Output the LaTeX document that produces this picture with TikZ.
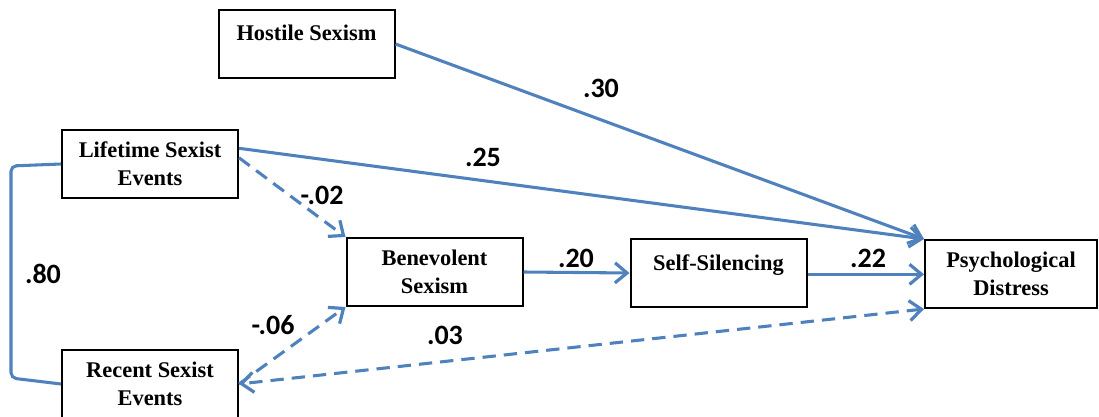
\documentclass[tikz,border=0pt]{standalone}
\usepackage{fontspec}
\setmainfont{Liberation Serif}
\newfontfamily\coeffont{Carlito}
\usetikzlibrary{arrows.meta}
\definecolor{linkblue}{HTML}{4F81BD}

\begin{document}
\begin{tikzpicture}[
        x=0.75pt, y=-0.75pt,
        box/.style={draw, line width=1.5pt, minimum width=132pt, minimum height=51pt,
            inner sep=0pt, align=center, font=\fontsize{16.8}{21}\selectfont\bfseries},
        oneline/.style={text height=12pt, text depth=16.5pt},
        barb/.tip={Straight Barb[length=9pt, width=15pt, line width=2.4pt]},
        link/.style={draw=linkblue, line width=2.3pt, -barb},
        dashlink/.style={link, dash pattern=on 10pt off 6pt},
        coef/.style={font=\coeffont\fontsize{21}{25}\selectfont\bfseries, inner sep=0pt}
    ]
        \useasboundingbox (0,0) rectangle (1099,417);

        % Variables
        \node[box, oneline] (hostile) at (306.5,44) {Hostile Sexism};
        \node[box] (lifetime) at (150,164) {Lifetime Sexist\\Events};
        \node[box] (recent) at (150,384) {Recent Sexist\\Events};
        \node[box] (benevolent) at (434.5,272) {Benevolent\\Sexism};
        \node[box, oneline] (silencing) at (718.5,273) {Self-Silencing};
        \node[box, minimum width=129pt] (distress) at (1011,274) {Psychological\\Distress};

        % Paths
        \draw[link] (hostile.east) -- (distress.north west);
        \draw[link] (lifetime.10) -- (distress.north west);
        \draw[dashlink] (lifetime.4) -- (benevolent.north west);
        \draw[dashlink] (recent.east) -- (benevolent.south west);
        \draw[dashlink, barb-barb] (distress.south west) -- (recent.east);
        \draw[link] (benevolent.east) -- (silencing.west);
        \draw[link] ([yshift=-1pt]silencing.east) -- ([yshift=-1pt]silencing.east -| distress.west);

        % Correlation
        \draw[draw=linkblue, line width=2.3pt, rounded corners=4pt]
            (lifetime.west) -- ++(-50,2) -- ++(0,212) -- (recent.west);

        % Coefficients
        \node[coef] (c30) at (601,88) {.30};
        \node[coef] (c25) at (483,157) {.25};
        \node[coef] (c02) at (322,195) {-.02};
        \node[coef] (c06) at (273,325) {-.06};
        \node[coef] (c03) at (445,335) {.03};
        \node[coef] (c80) at (43,274) {.80};
        \node[coef] (c20) at (576,258) {.20};
        \node[coef] (c22) at (868,258) {.22};
    \end{tikzpicture}
\end{document}
